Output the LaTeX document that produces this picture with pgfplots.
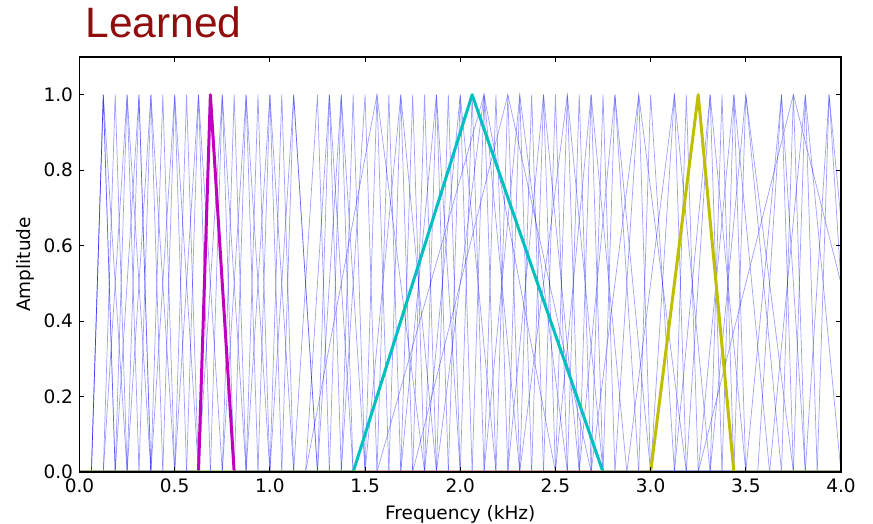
\documentclass[border=0pt]{standalone}
\usepackage{pgfplots}
\pgfplotsset{compat=1.18}
\usepackage{fontspec}
\setmainfont{DejaVu Sans}
\newfontfamily\titlefont{Liberation Sans}
\definecolor{titlered}{RGB}{145,12,12}
\definecolor{mplm}{rgb}{0.75,0,0.75}
\definecolor{mplc}{rgb}{0,0.75,0.75}
\definecolor{mply}{rgb}{0.75,0.75,0}
\newcommand{\lbl}{\fontsize{18.5}{22}\selectfont}
\newcommand\tri[3]{\addplot[filt] coordinates {(#1,0) (#2,1) (#3,0)};}
\begin{document}
\begin{tikzpicture}
\useasboundingbox (-79.5pt,-51pt) rectangle (793.5pt,472pt);
\begin{axis}[
  at={(0,0)}, anchor=south west,
  scale only axis, width=761.5pt, height=415pt,
  xmin=0, xmax=4, ymin=0, ymax=1.1,
  xtick={0,0.5,1,1.5,2,2.5,3,3.5,4},
  ytick={0,0.2,0.4,0.6,0.8,1.0},
  /pgf/number format/assume math mode=true,
  /pgf/number format/fixed, /pgf/number format/fixed zerofill,
  /pgf/number format/precision=1,
  tick align=inside, major tick length=5pt,
  tick style={black, line width=0.9pt},
  axis line style={black, line width=1.3pt},
  axis on top,
  every tick label/.append style={font=\lbl},
  xticklabel style={yshift=-3pt},
  yticklabel style={xshift=-3pt},
  xlabel={Frequency (kHz)}, ylabel={Amplitude},
  xlabel style={font=\lbl, at={(axis description cs:0.5,-0.115)}, anchor=base},
  ylabel style={font=\lbl, at={(axis description cs:-0.071,0.5)}, anchor=center, rotate=0},
  filt/.style={blue, opacity=0.38, line width=0.7pt},
]
% --- learned filterbank (thin blue) ---
\tri{0.0625}{0.125}{0.1875}
\tri{0.0625}{0.125}{0.1875}
\tri{0.0625}{0.125}{0.25}
\tri{0.125}{0.1875}{0.25}
\tri{0.1875}{0.25}{0.3125}
\tri{0.125}{0.25}{0.375}
\tri{0.25}{0.3125}{0.375}
\tri{0.1875}{0.3125}{0.375}
\tri{0.3125}{0.375}{0.4375}
\tri{0.25}{0.375}{0.5}
\tri{0.375}{0.4375}{0.5}
\tri{0.4375}{0.5}{0.5625}
\tri{0.375}{0.5}{0.625}
\tri{0.5}{0.5625}{0.625}
\tri{0.5625}{0.625}{0.6875}
\tri{0.5}{0.625}{0.75}
\tri{0.625}{0.6875}{0.8125}
\tri{0.6875}{0.75}{0.8125}
\tri{0.625}{0.75}{0.875}
\tri{0.75}{0.8125}{0.875}
\tri{0.8125}{0.875}{0.9375}
\tri{0.75}{0.875}{1.0}
\tri{0.875}{0.9375}{1.0}
\tri{0.9375}{1.0}{1.0625}
\tri{0.875}{1.0}{1.125}
\tri{1.0}{1.0625}{1.125}
\tri{1.0625}{1.125}{1.25}
\tri{1.0}{1.125}{1.25}
\tri{1.125}{1.25}{1.3125}
\tri{1.1875}{1.3125}{1.4375}
\tri{1.25}{1.3125}{1.375}
\tri{1.3125}{1.375}{1.4375}
\tri{1.25}{1.375}{1.5}
\tri{1.375}{1.4375}{1.5}
\tri{1.375}{1.5}{1.5625}
\tri{1.1875}{1.5625}{1.8125}
\tri{1.5}{1.5625}{1.625}
\tri{1.5625}{1.625}{1.6875}
\tri{1.625}{1.6875}{1.75}
\tri{1.5}{1.6875}{1.875}
\tri{1.6875}{1.75}{1.8125}
\tri{1.75}{1.8125}{1.875}
\tri{1.8125}{1.875}{1.9375}
\tri{1.6875}{1.875}{2.0}
\tri{1.875}{1.9375}{2.0}
\tri{1.9375}{2.0}{2.0625}
\tri{1.8125}{2.0}{2.1875}
\tri{2.0}{2.0625}{2.125}
\tri{1.5625}{2.125}{2.5}
\tri{2.0625}{2.125}{2.1875}
\tri{1.875}{2.125}{2.3125}
\tri{2.125}{2.1875}{2.25}
\tri{1.75}{2.25}{2.6875}
\tri{2.1875}{2.25}{2.3125}
\tri{2.25}{2.3125}{2.375}
\tri{2.125}{2.3125}{2.5625}
\tri{2.3125}{2.375}{2.4375}
\tri{2.375}{2.4375}{2.5}
\tri{2.25}{2.4375}{2.625}
\tri{2.4375}{2.5}{2.5625}
\tri{2.5}{2.5625}{2.625}
\tri{2.3125}{2.5625}{2.75}
\tri{2.5625}{2.625}{2.6875}
\tri{2.625}{2.6875}{2.75}
\tri{2.5}{2.6875}{2.875}
\tri{2.6875}{2.75}{2.8125}
\tri{2.75}{2.8125}{2.9375}
\tri{2.625}{2.8125}{3.0}
\tri{2.8125}{2.9375}{3.0}
\tri{2.6875}{2.9375}{3.1875}
\tri{2.9375}{3.0}{3.125}
\tri{3.0}{3.125}{3.1875}
\tri{2.875}{3.125}{3.3125}
\tri{3.125}{3.1875}{3.25}
\tri{3.1875}{3.3125}{3.375}
\tri{3.125}{3.3125}{3.5}
\tri{3.3125}{3.375}{3.4375}
\tri{3.375}{3.4375}{3.5}
\tri{3.25}{3.4375}{3.625}
\tri{3.4375}{3.5}{3.6875}
\tri{3.3125}{3.5}{3.75}
\tri{3.5625}{3.6875}{3.75}
\tri{3.5}{3.6875}{3.8125}
\tri{3.25}{3.75}{4.25}
\tri{3.6875}{3.75}{3.8125}
\tri{3.75}{3.8125}{3.875}
\tri{3.625}{3.8125}{4.0}
\tri{3.875}{3.9375}{4.125}
\tri{3.8125}{3.9375}{4.0625}
% --- highlighted filters ---
\addplot[mplm, line width=3pt, line join=round] coordinates {(0,0) (0.625,0) (0.6875,1) (0.8125,0) (4,0)};
\addplot[mplc, line width=3pt, line join=round] coordinates {(0,0) (1.4375,0) (2.0625,1) (2.75,0) (4,0)};
\addplot[mply, line width=3pt, line join=round] coordinates {(0,0) (3.0,0) (3.25,1) (3.4375,0) (4,0)};
\end{axis}
\node[anchor=base west, inner sep=0pt, text=titlered, font=\titlefont\fontsize{42.5}{50}\selectfont] at (5.8pt,434.5pt) {Learned};
\end{tikzpicture}
\end{document}
